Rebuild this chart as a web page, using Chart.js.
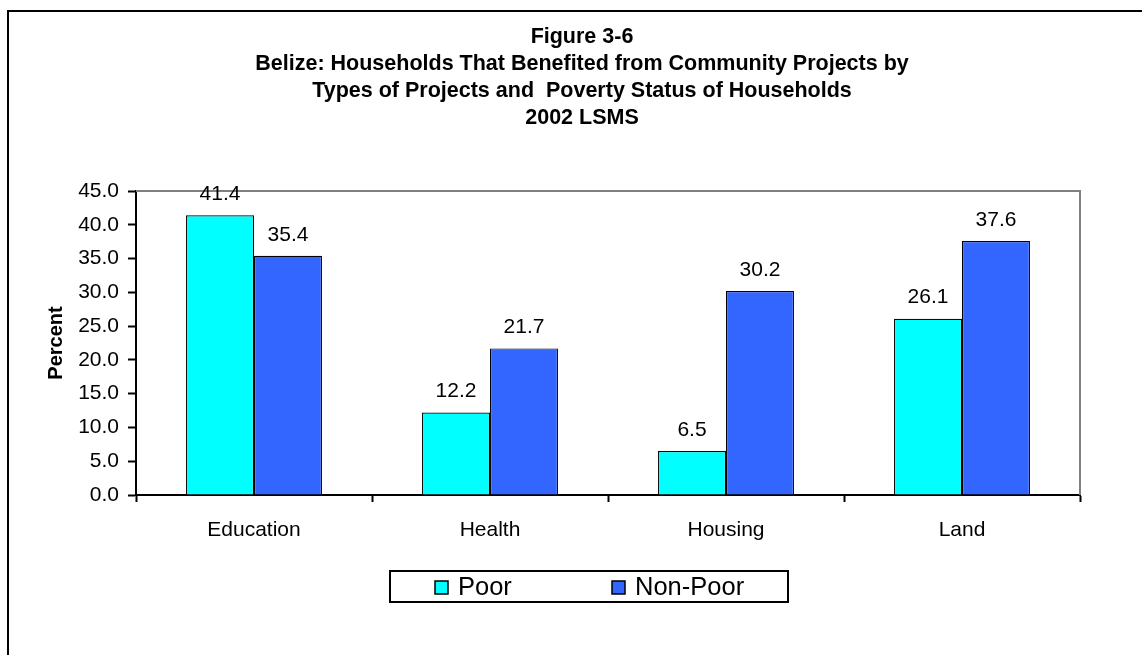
<!DOCTYPE html>
<html>
<head>
<meta charset="utf-8">
<title>Figure 3-6</title>
<script src="https://cdn.jsdelivr.net/npm/chart.js@4.4.1/dist/chart.umd.min.js"></script>
<style>
  html, body { margin: 0; padding: 0; background: #fff; }
  #chart { display: block; }
</style>
</head>
<body>
<canvas id="chart" width="1142" height="655"></canvas>
<script>
const categories = ['Education', 'Health', 'Housing', 'Land'];
const poorValues = [41.4, 12.2, 6.5, 26.1];
const nonPoorValues = [35.4, 21.7, 30.2, 37.6];
const seriesNames = ['Poor', 'Non-Poor'];
const yMin = 0;
const yMax = 45;
const yStep = 5;
const titleLines = [
    'Figure 3-6',
    'Belize: Households That Benefited from Community Projects by',
    'Types of Projects and  Poverty Status of Households',
    '2002 LSMS'
];
const yAxisTitle = 'Percent';

const FONT = '"Liberation Sans", Arial, sans-serif';

// frame, title, value labels and legend box
const decorations = {
    id: 'decorations',
    beforeDatasetsDraw(chart) {
        const ctx = chart.ctx;
        const a = chart.chartArea;
        ctx.save();
        // outer frame (runs off the right and bottom edges)
        ctx.strokeStyle = '#000';
        ctx.lineWidth = 2;
        ctx.strokeRect(8, 11, 1200, 700);
        // grey top and right edge of the plot area
        ctx.strokeStyle = '#808080';
        ctx.lineWidth = 2;
        ctx.beginPath();
        ctx.moveTo(a.left, a.top);
        ctx.lineTo(a.right, a.top);
        ctx.lineTo(a.right, a.bottom);
        ctx.stroke();
        ctx.restore();
    },
    afterDraw(chart) {
        const ctx = chart.ctx;
        ctx.save();
        ctx.fillStyle = '#000';
        ctx.textAlign = 'center';
        ctx.textBaseline = 'middle';

        // title
        ctx.font = 'bold 21.5px ' + FONT;
        titleLines.forEach((line, i) => {
            ctx.fillText(line, 582, 37 + i * 27);
        });

        // value labels above bars
        ctx.font = '21px ' + FONT;
        chart.data.datasets.forEach((ds, di) => {
            const meta = chart.getDatasetMeta(di);
            meta.data.forEach((bar, i) => {
                ctx.fillText(ds.data[i].toFixed(1), bar.x, bar.y - 21);
            });
        });

        // legend
        ctx.strokeStyle = '#000';
        ctx.lineWidth = 2;
        ctx.strokeRect(390, 571, 398, 31);
        ctx.font = '25.5px ' + FONT;
        ctx.textAlign = 'left';
        const items = [
            { x: 435, textX: 458 },
            { x: 612, textX: 635 }
        ];
        chart.data.datasets.forEach((ds, di) => {
            const it = items[di];
            ctx.fillStyle = ds.backgroundColor;
            ctx.fillRect(it.x, 581, 13, 13);
            ctx.lineWidth = 1.5;
            ctx.strokeRect(it.x, 581, 13, 13);
            ctx.fillStyle = '#000';
            ctx.fillText(ds.label, it.textX, 588);
        });
        ctx.restore();
    }
};

new Chart(document.getElementById('chart'), {
    type: 'bar',
    data: {
        labels: categories,
        datasets: [{
            label: seriesNames[0],
            data: poorValues,
            backgroundColor: '#00FFFF',
            borderColor: '#000',
            borderWidth: 1.2
        }, {
            label: seriesNames[1],
            data: nonPoorValues,
            backgroundColor: '#3366FF',
            borderColor: '#000',
            borderWidth: 1.2
        }]
    },
    options: {
        responsive: false,
        animation: false,
        devicePixelRatio: 1,
        layout: { padding: { top: 191, right: 62, left: 0, bottom: 0 } },
        datasets: {
            bar: { categoryPercentage: 0.576, barPercentage: 1 }
        },
        plugins: {
            legend: { display: false },
            title: { display: false },
            tooltip: { enabled: false }
        },
        scales: {
            x: {
                afterFit(scale) { scale.height = 160; },
                border: { color: '#000', width: 2 },
                grid: {
                    offset: true,
                    drawOnChartArea: false,
                    drawTicks: true,
                    tickLength: 7,
                    tickWidth: 2,
                    color: '#000'
                },
                ticks: {
                    color: '#000',
                    padding: 16,
                    font: { family: FONT, size: 21 }
                }
            },
            y: {
                min: yMin,
                max: yMax,
                afterFit(scale) { scale.width = 136; },
                border: { color: '#000', width: 2 },
                grid: {
                    drawOnChartArea: false,
                    drawTicks: true,
                    tickLength: 8,
                    tickWidth: 2,
                    color: '#000'
                },
                ticks: {
                    stepSize: yStep,
                    color: '#000',
                    padding: 9,
                    font: { family: FONT, size: 21 },
                    callback: v => v.toFixed(1)
                },
                title: {
                    display: true,
                    text: yAxisTitle,
                    color: '#000',
                    padding: { top: 44, bottom: 0 },
                    font: { family: FONT, size: 20, weight: 'bold' }
                }
            }
        }
    },
    plugins: [decorations]
});
</script>
</body>
</html>
